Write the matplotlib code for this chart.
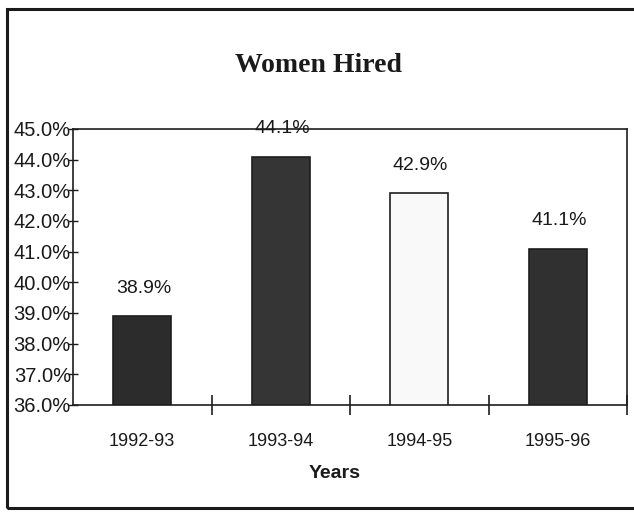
import matplotlib
matplotlib.use("Agg")
import matplotlib.pyplot as plt
from matplotlib.patches import Rectangle
from matplotlib.ticker import FixedLocator, FuncFormatter
from matplotlib import font_manager

# Data
years = ["1992-93", "1993-94", "1994-95", "1995-96"]
women_hired_pct = [38.9, 44.1, 42.9, 41.1]
bar_colors = ["#2c2c2c", "#353535", "#f9f9f9", "#303030"]
y_ticks = [36.0, 37.0, 38.0, 39.0, 40.0, 41.0, 42.0, 43.0, 44.0, 45.0]

installed = {f.name for f in font_manager.fontManager.ttflist}
narrow = "Liberation Sans Narrow" if "Liberation Sans Narrow" in installed else "Liberation Sans"
sans = [narrow, "DejaVu Sans"]

fig = plt.figure(figsize=(6.34, 5.12), dpi=100)
fig.patch.set_facecolor("white")

# Outer chart border
fig.add_artist(Rectangle((7 / 634, 4 / 512), 640 / 634, 499 / 512,
                         transform=fig.transFigure, fill=False,
                         edgecolor="#1a1a1a", linewidth=2.2, zorder=0))

ax = fig.add_axes([73 / 634, 107 / 512, 554 / 634, 276 / 512])
x = list(range(len(years)))
bars = ax.bar(x, women_hired_pct, width=0.42, color=bar_colors,
              edgecolor="#1e1e1e", linewidth=1.2, zorder=2)

ax.set_xlim(-0.5, len(years) - 0.5)
ax.set_ylim(y_ticks[0], y_ticks[-1])

for spine in ax.spines.values():
    spine.set_linewidth(1.2)
    spine.set_color("#1e1e1e")

# Value labels above each bar
for xi, v in zip(x, women_hired_pct):
    ax.annotate(f"{v:.1f}%", (xi, v), xytext=(1, 20), textcoords="offset points",
                ha="center", va="center", fontsize=14, family=sans,
                color="#1a1a1a", annotation_clip=False, zorder=3)

# Y axis
ax.yaxis.set_major_locator(FixedLocator(y_ticks))
ax.yaxis.set_major_formatter(FuncFormatter(lambda v, p: f"{v:.1f}%"))
ax.tick_params(axis="y", direction="inout", length=7, width=1.0,
               labelsize=14.5, pad=-2, colors="#1a1a1a")
for lbl in ax.get_yticklabels():
    lbl.set_family(sans)

# X axis: separators between categories, labels centred under bars
ax.set_xticks(x)
ax.set_xticklabels(years)
ax.tick_params(axis="x", which="major", length=0, pad=20, labelsize=13,
               colors="#1a1a1a")
for lbl in ax.get_xticklabels():
    lbl.set_family(sans)
ax.xaxis.set_minor_locator(FixedLocator([0.5, 1.5, 2.5, 3.5]))
ax.tick_params(axis="x", which="minor", direction="inout", length=14,
               width=1.2, colors="#1e1e1e")

ax.set_xlabel("Years", fontsize=14, fontweight="bold", family=sans,
              color="#1a1a1a")
ax.xaxis.set_label_coords(0.472, -0.25, transform=ax.transAxes)
ax.xaxis.label.set_va("center")

fig.text(0.502, 0.872, "Women Hired", ha="center", va="center",
         fontsize=20, fontweight="bold", family=["Liberation Serif", "DejaVu Serif"],
         color="#1a1a1a")

fig.savefig("out.png", dpi=100, facecolor="white")
